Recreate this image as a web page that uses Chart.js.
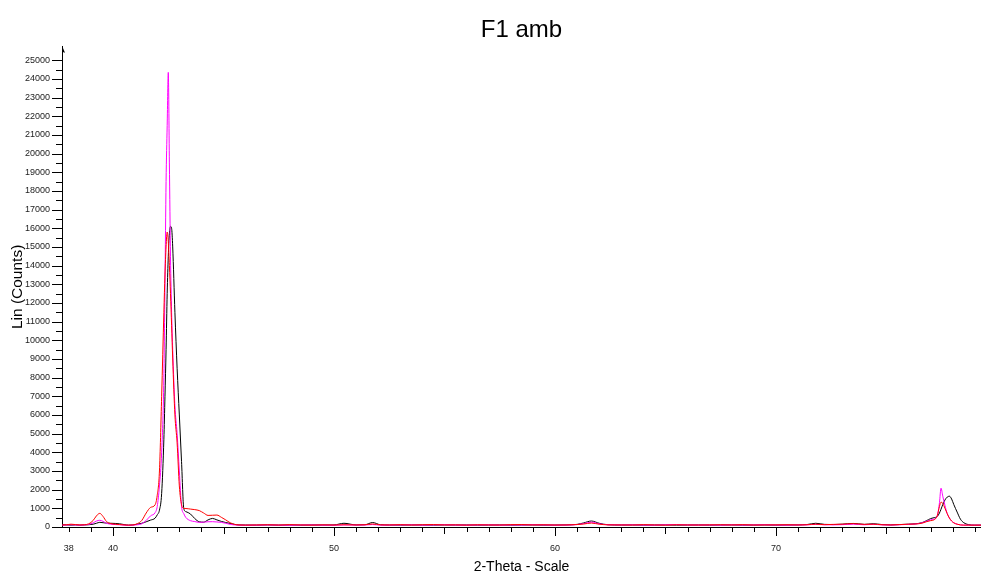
<!DOCTYPE html>
<html><head><meta charset="utf-8">
<script src="https://cdn.jsdelivr.net/npm/chart.js@4.4.1/dist/chart.umd.min.js"></script>
<style>html,body{margin:0;padding:0;background:#fff}canvas{display:block}</style>
</head><body>
<canvas id="c" width="981" height="578"></canvas>
<script>
const chartTitle = 'F1 amb';
const xTitle = '2-Theta - Scale';
const yTitle = 'Lin (Counts)';
const xTickLabels = [38, 40, 50, 60, 70];
const yTickLabels = [0, 1000, 2000, 3000, 4000, 5000, 6000, 7000, 8000, 9000, 10000, 11000, 12000,
  13000, 14000, 15000, 16000, 17000, 18000, 19000, 20000, 21000, 22000, 23000, 24000, 25000];

const theta = [
  37.7, 37.9, 38.1, 38.3, 38.5, 38.7, 38.9, 39.1, 39.25, 39.4, 39.55, 39.7, 39.9, 40.1, 40.3, 40.5, 40.7, 40.9, 41.1, 41.3, 41.5, 41.7, 41.9,
  42.0, 42.1, 42.2, 42.3, 42.35, 42.4, 42.45, 42.5, 42.55, 42.6, 42.65, 42.7, 42.8, 42.9, 43.0, 43.1, 43.2, 43.3,
  43.5, 43.7, 43.9, 44.1, 44.3, 44.5, 44.7, 44.9, 45.1, 45.3, 45.5, 45.7,
  46.0, 46.5, 47.0, 47.5, 48.0, 48.5, 49.0, 49.5, 50.0,
  50.45, 51.0, 51.4, 51.75, 52.1,
  52.5, 53.0, 53.5, 54.0, 54.5, 55.0, 55.5, 56.0, 56.5, 57.0, 57.5, 58.0, 58.5, 59.0, 59.5, 60.0, 60.5, 61.0,
  61.3, 61.65, 62.0, 62.4,
  63.0, 63.5, 64.0, 64.5, 65.0, 65.5, 66.0, 66.5, 67.0, 67.5, 68.0, 68.5, 69.0, 69.5, 70.0, 70.5, 71.0,
  71.4, 71.8, 72.2, 72.6, 73.0, 73.5, 74.0, 74.4, 74.8, 75.2, 75.6, 76.0,
  76.3, 76.6, 76.8, 77.0, 77.15, 77.3, 77.4, 77.47, 77.55, 77.65, 77.75, 77.85, 77.95, 78.05, 78.2, 78.35, 78.5, 78.7, 79.0, 79.3
];

const redCounts = [
  110, 120, 150, 130, 110, 120, 170, 350, 600, 730, 560, 300, 180, 150, 130, 110, 100, 110, 180, 350, 750, 1050, 1180,
  1700, 3000, 7000, 11500, 13500, 15000, 15800, 15300, 14000, 12500, 10800, 9000, 6000, 4500, 2200, 1200, 1000, 990,
  960, 930, 880, 750, 620, 630, 640, 520, 380, 230, 140, 110,
  100, 110, 120, 105, 125, 110, 100, 115, 105,
  120, 110, 120, 160, 115,
  110, 125, 105, 120, 130, 110, 115, 100, 120, 110, 105, 125, 130, 110, 120, 105, 110, 130,
  160, 210, 150, 115,
  110, 105, 125, 110, 100, 120, 110, 105, 115, 120, 110, 125, 105, 110, 115, 120, 110,
  120, 150, 125, 140, 150, 180, 140, 150, 120, 110, 130, 150,
  160, 200, 280, 340, 380, 600, 1100, 1330, 1270, 1000, 720, 480, 320, 220, 150, 110, 100, 100, 100, 100
];

const magentaCounts = [
  100, 110, 120, 110, 100, 110, 140, 220, 320, 360, 300, 200, 150, 130, 120, 100, 90, 100, 120, 170, 350, 600, 760,
  1100, 2200, 4000, 8000, 13000, 18500, 21500, 24350, 19500, 14500, 11500, 9500, 6500, 5000, 3000, 1100, 720, 500,
  340, 290, 250, 260, 280, 285, 270, 250, 200, 140, 110, 100,
  95, 100, 110, 100, 95, 105, 110, 100, 95,
  110, 105, 110, 130, 100,
  105, 110, 115, 100, 110, 120, 105, 100, 110, 115, 100, 110, 105, 120, 110, 100, 105, 130,
  180, 260, 170, 120,
  110, 115, 105, 100, 120, 130, 110, 105, 110, 100, 115, 105, 110, 120, 105, 100, 110,
  115, 140, 120, 115, 125, 150, 120, 140, 115, 105, 120, 140,
  160, 220, 300, 380, 430, 600, 1300, 2080, 1650, 1150, 720, 480, 320, 230, 150, 110, 100, 100, 100, 100
];

const blackCounts = [
  120, 110, 100, 110, 100, 110, 120, 150, 200, 250, 230, 210, 200, 190, 170, 130, 100, 110, 150, 200, 280, 370, 470,
  650, 900, 1800, 4700, 7000, 9500, 12500, 14500, 15700, 16100, 16000, 15000, 11500, 8500, 6000, 3500, 1000, 820,
  700, 450, 280, 260, 380, 460, 380, 300, 240, 190, 140, 110,
  105, 100, 110, 100, 105, 100, 110, 105, 110,
  200, 110, 120, 240, 120,
  105, 100, 110, 105, 100, 110, 105, 110, 100, 105, 110, 100, 105, 110, 100, 105, 110, 140,
  220, 320, 200, 120,
  105, 110, 100, 105, 110, 100, 105, 110, 100, 105, 110, 100, 105, 110, 100, 105, 110,
  130, 200, 140, 130, 150, 190, 140, 175, 130, 110, 130, 150,
  170, 230, 330, 450, 500, 560, 750, 950, 1200, 1450, 1600, 1650, 1500, 1200, 800, 420, 230, 130, 100, 100
];

const toPoints = arr => theta.map((t, i) => ({x: t, y: arr[i]}));

Chart.defaults.font.family = "'Liberation Sans', Arial, sans-serif";

const axisTicks = {
  id: 'axisTicks',
  afterDraw(chart) {
    const {ctx, chartArea: a, scales: {x, y}} = chart;
    ctx.save();
    ctx.strokeStyle = '#000';
    ctx.lineWidth = 1;
    ctx.beginPath();
    for (let v = 0; v <= 25000; v += 500) {
      const py = Math.round(y.getPixelForValue(v)) + 0.5;
      const len = v % 1000 === 0 ? 10 : 6;
      ctx.moveTo(a.left - len, py); ctx.lineTo(a.left, py);
    }
    for (let v = 38; v <= 79; v++) {
      const px = Math.round(x.getPixelForValue(v)) + 0.5;
      const len = v % 10 === 0 ? 9 : (v % 5 === 0 ? 7 : 5);
      ctx.moveTo(px, a.bottom); ctx.lineTo(px, a.bottom + len);
    }
    ctx.stroke();
    ctx.fillStyle = '#000';
    ctx.beginPath();
    ctx.moveTo(a.left, a.top - 1);
    ctx.lineTo(a.left + 3, a.top + 6);
    ctx.lineTo(a.left, a.top + 5);
    ctx.closePath();
    ctx.fill();
    ctx.restore();
  }
};

new Chart(document.getElementById('c'), {
  type: 'line',
  data: {
    datasets: [
      {label: 'red', data: toPoints(redCounts), borderColor: '#ff0000'},
      {label: 'magenta', data: toPoints(magentaCounts), borderColor: '#ff00ff'},
      {label: 'black', data: toPoints(blackCounts), borderColor: '#000000'}
    ]
  },
  options: {
    responsive: false,
    animation: false,
    events: [],
    layout: {padding: 0},
    elements: {
      point: {radius: 0},
      line: {borderWidth: 1, cubicInterpolationMode: 'monotone', fill: false}
    },
    plugins: {
      legend: {display: false},
      tooltip: {enabled: false},
      title: {
        display: true, text: chartTitle, color: '#000', fullSize: false,
        font: {size: 24, weight: 'normal'},
        padding: {top: 16, bottom: 2}
      }
    },
    scales: {
      x: {
        type: 'linear', min: 37.69, max: 79.28,
        grid: {display: false, drawTicks: false},
        border: {display: true, color: '#000', width: 1},
        afterBuildTicks: s => { s.ticks = xTickLabels.map(v => ({value: v})); },
        ticks: {autoSkip: false, maxRotation: 0, padding: 16, color: '#222', font: {size: 9},
          callback: v => String(v)},
        title: {display: true, text: xTitle, color: '#000', font: {size: 14}, padding: {top: 0, bottom: 2}},
        afterFit: s => { s.height = 51; }
      },
      y: {
        type: 'linear', min: 0, max: 25720,
        grid: {display: false, drawTicks: false},
        border: {display: true, color: '#000', width: 1},
        afterBuildTicks: s => { s.ticks = yTickLabels.map(v => ({value: v})); },
        ticks: {autoSkip: false, padding: 12, color: '#222', font: {size: 9},
          callback: v => String(v)},
        title: {display: true, text: yTitle, color: '#000', font: {size: 15.5}, padding: {top: 8, bottom: 0}},
        afterFit: s => { s.width = 62; }
      }
    }
  },
  plugins: [axisTicks]
});
</script>
</body></html>
